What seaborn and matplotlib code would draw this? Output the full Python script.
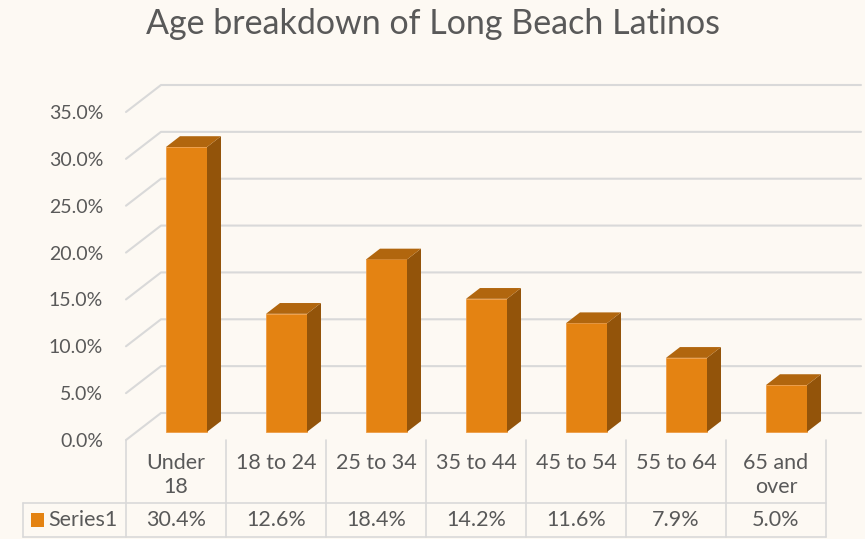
import numpy as np
import pandas as pd
import matplotlib
matplotlib.use('Agg')
import matplotlib.pyplot as plt
import seaborn as sns
from matplotlib.patches import Polygon, Rectangle
from matplotlib.transforms import blended_transform_factory

# ── data ───────────────────────────────────────────────
categories = ['Under\n18', '18 to 24', '25 to 34', '35 to 44',
              '45 to 54', '55 to 64', '65 and\nover']
values = [30.4, 12.6, 18.4, 14.2, 11.6, 7.9, 5.0]
series_name = 'Series1'
y_ticks = [0, 5, 10, 15, 20, 25, 30, 35]
title = 'Age breakdown of Long Beach Latinos'

# ── colours ────────────────────────────────────────────
bg = '#FDF9F3'
front_col = '#E48312'
side_col = '#93540A'
top_col = '#B1660E'
grid_col = '#D9D9D9'
text_col = '#595959'

sns.set_theme(style='white')
plt.rcParams['font.family'] = ['Lato', 'DejaVu Sans']

W, H = 865, 539
fig = plt.figure(figsize=(W / 100, H / 100), dpi=100, facecolor=bg)
ax = fig.add_axes([126 / W, 99 / H, 700 / W, 328 / H])
ax.set_facecolor('none')

df = pd.DataFrame({'age': categories, 'share': values})
sns.barplot(data=df, x='age', y='share', color=front_col, width=0.41,
            saturation=1, edgecolor='#EE9C45', linewidth=0.6, ax=ax, zorder=3)

ax.set_xlim(-0.5, 6.5)
ax.set_ylim(0, 35)

# depth of the fake 3d box (full depth), in data units
DX = 0.35
DY = 27 / (328 / 35)
f0, fd = 0.3, 0.4   # bar front position and bar depth as fraction of full depth

# walls: left side + back gridlines
for v in y_ticks:
    ax.plot([-0.5, -0.5 + DX, 6.5 + DX], [v, v + DY, v + DY],
            color=grid_col, lw=1.5, clip_on=False, zorder=1)

# move bars back and add side / top faces
for p in ax.patches[:len(values)]:
    x0 = p.get_x() + f0 * DX
    y0 = f0 * DY
    w = p.get_width()
    h = p.get_height()
    p.set_x(x0)
    p.set_y(y0)
    x1 = x0 + w
    ddx, ddy = fd * DX, fd * DY
    side = Polygon([(x1, y0), (x1 + ddx, y0 + ddy), (x1 + ddx, y0 + h + ddy), (x1, y0 + h)],
                   closed=True, facecolor=side_col, edgecolor='none', zorder=3, clip_on=False)
    top = Polygon([(x0, y0 + h), (x0 + ddx, y0 + h + ddy), (x1 + ddx, y0 + h + ddy), (x1, y0 + h)],
                  closed=True, facecolor=top_col, edgecolor='none', zorder=3, clip_on=False)
    ax.add_patch(side)
    ax.add_patch(top)
    p.set_clip_on(False)

ax.set_yticks(y_ticks)
ax.set_yticklabels([f'{v:.1f}%' for v in y_ticks])
ax.tick_params(axis='y', length=0, pad=16.5, labelsize=14, labelcolor=text_col)
ax.set_xticks([])
ax.set_xlabel('')
ax.set_ylabel('')
sns.despine(ax=ax, left=True, bottom=True)

# ── data table under the chart ─────────────────────────
trans = blended_transform_factory(ax.transData, fig.transFigure)
y_top = 99 / H
y_row = 36 / H
y_bot = 2 / H
x_left = -0.5 - 103 / 100

for i in range(len(categories) + 1):
    ax.plot([-0.5 + i, -0.5 + i], [y_top, y_bot], transform=trans,
            color=grid_col, lw=1.2, clip_on=False)
ax.plot([x_left, x_left], [y_row, y_bot], transform=trans, color=grid_col, lw=1.2, clip_on=False)
for yy in (y_row, y_bot):
    ax.plot([x_left, 6.5], [yy, yy], transform=trans, color=grid_col, lw=1.2, clip_on=False)

for i, cat in enumerate(categories):
    ax.text(i, 1 - 453 / H, cat, transform=trans, ha='center', va='top',
            fontsize=15.5, color=text_col, linespacing=1.25)
    ax.text(i, 19 / H, f'{values[i]:.1f}%', transform=trans, ha='center', va='center',
            fontsize=15.5, color=text_col)

fig.add_artist(Rectangle((31 / W, 12 / H), 13 / W, 14 / H, transform=fig.transFigure,
                         facecolor=front_col, edgecolor='none'))
fig.text(48 / W, 19 / H, series_name, ha='left', va='center', fontsize=15.5, color=text_col)

fig.text(0.501, 1 - 24 / H, title, ha='center', va='center', fontsize=24.5, color=text_col)

fig.savefig('out.png', dpi=100, facecolor=bg)
